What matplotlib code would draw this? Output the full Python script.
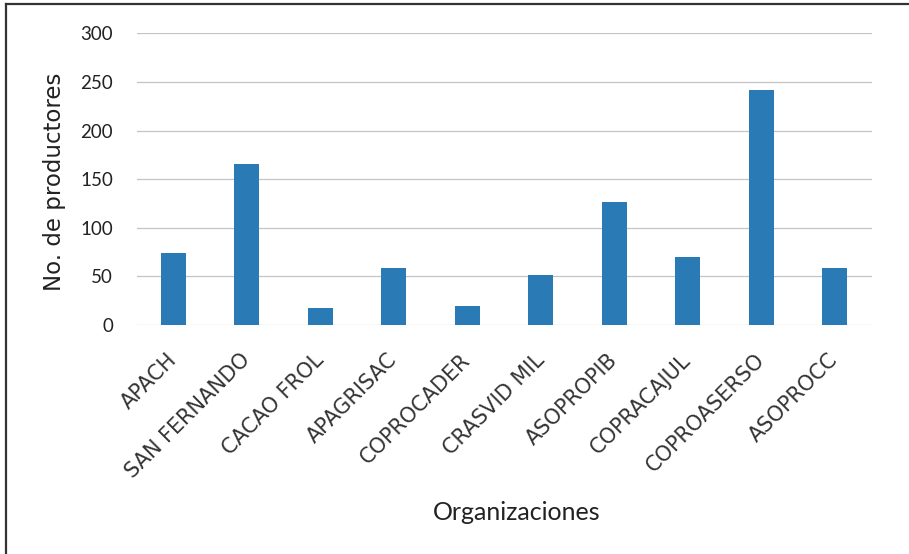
import matplotlib
matplotlib.use("Agg")
import matplotlib.pyplot as plt
from matplotlib.lines import Line2D

organizaciones = [
    "APACH", "SAN FERNANDO", "CACAO FROL", "APAGRISAC", "COPROCADER",
    "CRASVID MIL", "ASOPROPIB", "COPRACAJUL", "COPROASERSO", "ASOPROCC",
]
productores = [74, 166, 17, 59, 20, 51, 127, 70, 242, 59]
y_ticks = [0, 50, 100, 150, 200, 250, 300]

W, H = 909, 554
fig = plt.figure(figsize=(W / 100, H / 100), dpi=100)
ax = fig.add_axes([136.7 / W, 1 - 325 / H, 735 / W, 291.7 / H])

x = list(range(len(organizaciones)))
ax.bar(x, productores, width=0.34, color="#2a7ab5", zorder=3)

ax.set_xlim(-0.5, len(organizaciones) - 0.5)
ax.set_ylim(0, 300)
ax.set_yticks(y_ticks)
ax.set_yticklabels([str(v) for v in y_ticks], fontsize=13.5, family="Lato",
                   color="#222222")
ax.grid(axis="y", color="#c4c4c4", linewidth=0.9, zorder=0)
ax.tick_params(axis="y", length=0, pad=17)
ax.tick_params(axis="x", length=0, pad=23)
for s in ax.spines.values():
    s.set_visible(False)

ax.set_xticks(x)
ax.set_xticklabels(organizaciones, rotation=45, ha="right", va="center",
                   rotation_mode="anchor", fontsize=15, family="DejaVu Sans",
                   color="#333333")

fig.text(55 / W, 1 - 182 / H, "No. de productores", rotation=90,
         ha="center", va="center", fontsize=16.5, family="DejaVu Sans",
         color="#222222")
fig.text(517 / W, 1 - 512 / H, "Organizaciones", ha="center", va="center",
         fontsize=18, family="Lato", color="#222222")

# page edge lines (top and left only)
fig.add_artist(Line2D([6 / W, 1], [1 - 4 / H, 1 - 4 / H],
                      transform=fig.transFigure, color="#333333", linewidth=1.6))
fig.add_artist(Line2D([6 / W, 6 / W], [0, 1 - 4 / H],
                      transform=fig.transFigure, color="#333333", linewidth=1.6))

fig.savefig("out.png", dpi=100)
